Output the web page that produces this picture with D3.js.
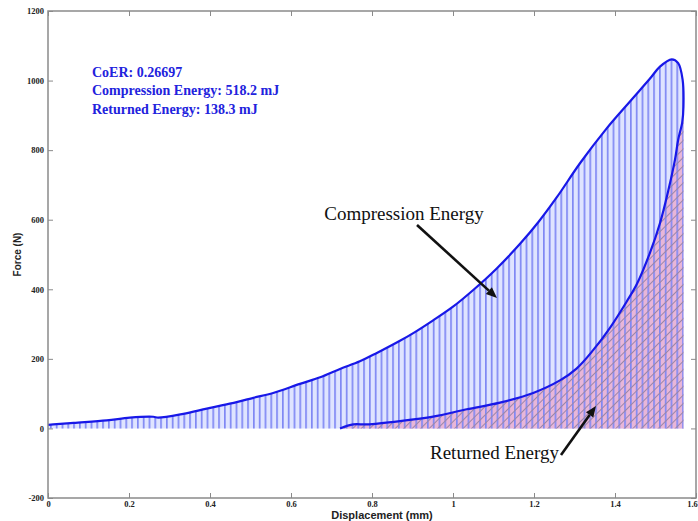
<!DOCTYPE html>
<html>
<head>
<meta charset="utf-8">
<script src="https://cdn.jsdelivr.net/npm/d3@7"></script>
<style>
  html, body { margin: 0; padding: 0; background: #fff; }
  svg { display: block; }
</style>
</head>
<body>
<svg id="chart" width="698" height="521"></svg>
<script>
// Loading (compression) branch: displacement in mm, force in N
const loadDisp  = [0, 0.013, 0.063, 0.145, 0.202, 0.26, 0.272, 0.334, 0.392, 0.441, 0.507, 0.556, 0.622, 0.672, 0.721, 0.770, 0.812, 0.869, 0.906, 0.950, 1.000, 1.050, 1.108, 1.165, 1.210, 1.256, 1.314, 1.379, 1.437, 1.486, 1.511, 1.540, 1.556, 1.567, 1.569];
const loadForce = [10, 11.5, 16, 23, 31, 33.5, 31, 42, 57, 69, 88, 102, 128, 147, 171, 193, 217, 252, 277, 310, 350, 398, 460, 530, 592, 664, 763, 862, 940, 1005, 1040, 1061, 1050, 1002, 925];

// Unloading (return) branch
const unloadDisp  = [1.569, 1.566, 1.556, 1.548, 1.532, 1.511, 1.486, 1.454, 1.429, 1.388, 1.346, 1.305, 1.264, 1.198, 1.116, 1.034, 0.951, 0.869, 0.787, 0.754, 0.721];
const unloadForce = [925, 880, 830, 772, 686, 590, 504, 415, 365, 290, 225, 172, 138, 102, 74, 55, 34, 21, 11.5, 11.5, 0];

// Axes ticks
const xTicks = [0, 0.2, 0.4, 0.6, 0.8, 1, 1.2, 1.4, 1.6];
const xTickLabels = ["0", "0.2", "0.4", "0.6", "0.8", "1", "1.2", "1.4", "1.6"];
const yTicks = [-200, 0, 200, 400, 600, 800, 1000, 1200];
const yTickLabels = ["-200", "0", "200", "400", "600", "800", "1000", "1200"];

// Summary text
const summaryLines = ["CoER: 0.26697", "Compression Energy: 518.2 mJ", "Returned Energy: 138.3 mJ"];

const svg = d3.select("#chart");
const plotL = 48, plotR = 696, plotT = 11, plotB = 498;

const x = d3.scaleLinear().domain([0, 1.6]).range([plotL, plotR]);
const y = d3.scaleLinear().domain([-200, 1200]).range([plotB, plotT]);

const loading = loadDisp.map((d, i) => ({ d, f: loadForce[i] }));
const unloadPts = unloadDisp.map((d, i) => ({ d, f: unloadForce[i] }));
const unloading = unloadPts.slice().sort((a, b) => a.d - b.d);

// Hatch patterns
const defs = svg.append("defs");
const vp = defs.append("pattern")
  .attr("id", "vlines").attr("patternUnits", "userSpaceOnUse")
  .attr("x", plotL + 2).attr("y", 0).attr("width", 5.8).attr("height", 10);
vp.append("rect").attr("x", 0).attr("y", 0).attr("width", 1.7).attr("height", 10)
  .attr("fill", "#8088f4");

const dp = defs.append("pattern")
  .attr("id", "dlines").attr("patternUnits", "userSpaceOnUse")
  .attr("width", 6).attr("height", 6)
  .attr("patternTransform", "rotate(45)");
dp.append("rect").attr("x", 0).attr("y", 0).attr("width", 1).attr("height", 6)
  .attr("fill", "#9a86a8");

defs.append("clipPath").attr("id", "plotclip")
  .append("rect").attr("x", plotL).attr("y", plotT)
  .attr("width", plotR - plotL).attr("height", plotB - plotT);

const g = svg.append("g").attr("clip-path", "url(#plotclip)");

const smooth = d3.curveCatmullRom;
const areaGen = d3.area()
  .x(p => x(p.d)).y0(y(0)).y1(p => y(p.f)).curve(smooth);

// Compression energy region
g.append("path").datum(loading).attr("d", areaGen).attr("fill", "#dfe4ff");
// Returned energy region
g.append("path").datum(unloading).attr("d", areaGen).attr("fill", "#e8b6d8");
// Vertical hatching over the whole loading area
g.append("path").datum(loading).attr("d", areaGen).attr("fill", "url(#vlines)");
// Diagonal hatching on the returned region
g.append("path").datum(unloading).attr("d", areaGen).attr("fill", "url(#dlines)");

// Hysteresis loop outline
const lineGen = d3.line().x(p => x(p.d)).y(p => y(p.f)).curve(smooth);
const loop = loading.concat(unloadPts.slice(1));
g.append("path").datum(loop).attr("d", lineGen)
  .attr("fill", "none").attr("stroke", "#1818e8").attr("stroke-width", 2.2)
  .attr("stroke-linejoin", "round");

// Axes box and ticks
const axisColor = "#8a8a8a";
function styleAxis(sel) {
  sel.select(".domain").remove();
  sel.selectAll(".tick line").attr("stroke", axisColor).attr("stroke-width", 1);
  sel.selectAll(".tick text")
    .attr("fill", "#222")
    .style("font-family", "'Liberation Serif', 'Times New Roman', serif")
    .style("font-weight", "bold")
    .style("font-size", "8.5px");
}

const xAxisBottom = svg.append("g").attr("transform", `translate(0,${plotB})`)
  .call(d3.axisBottom(x).tickValues(xTicks).tickSize(-5).tickPadding(3)
    .tickFormat((d, i) => xTickLabels[i]))
  .call(styleAxis);
// keep the last label inside the page edge
xAxisBottom.selectAll(".tick text").filter(d => d === 1.6).attr("dx", "-4");

svg.append("g").attr("transform", `translate(0,${plotT})`)
  .call(d3.axisTop(x).tickValues(xTicks).tickSize(-5).tickFormat(""))
  .call(styleAxis);
svg.append("g").attr("transform", `translate(${plotL},0)`)
  .call(d3.axisLeft(y).tickValues(yTicks).tickSize(-5).tickPadding(4)
    .tickFormat((d, i) => yTickLabels[i]))
  .call(styleAxis);
svg.append("g").attr("transform", `translate(${plotR},0)`)
  .call(d3.axisRight(y).tickValues(yTicks).tickSize(-5).tickFormat(""))
  .call(styleAxis);

svg.append("rect")
  .attr("x", plotL).attr("y", plotT).attr("width", plotR - plotL).attr("height", plotB - plotT)
  .attr("fill", "none").attr("stroke", axisColor).attr("stroke-width", 1.5);

// Axis titles
svg.append("text")
  .attr("x", 382).attr("y", 519)
  .attr("text-anchor", "middle")
  .style("font-family", "'Liberation Sans', Arial, sans-serif")
  .style("font-weight", "bold").style("font-size", "11px")
  .attr("fill", "#222")
  .text("Displacement (mm)");
svg.append("text")
  .attr("transform", `translate(21,${(plotT + plotB) / 2}) rotate(-90)`)
  .attr("text-anchor", "middle")
  .style("font-family", "'Liberation Sans', Arial, sans-serif")
  .style("font-weight", "bold").style("font-size", "10px")
  .attr("fill", "#222")
  .text("Force (N)");

// Summary text block
svg.append("g").selectAll("text").data(summaryLines).join("text")
  .attr("x", 92).attr("y", (d, i) => 77 + i * 18.3)
  .style("font-family", "'Liberation Serif', 'Times New Roman', serif")
  .style("font-weight", "bold").style("font-size", "14px")
  .attr("fill", "#2222dd")
  .text(d => d);

// Callouts with arrows
function arrow(x1, y1, x2, y2) {
  const ang = Math.atan2(y2 - y1, x2 - x1);
  const len = 11, half = 4.5;
  const bx = x2 - len * Math.cos(ang), by = y2 - len * Math.sin(ang);
  svg.append("line")
    .attr("x1", x1).attr("y1", y1).attr("x2", bx).attr("y2", by)
    .attr("stroke", "#111").attr("stroke-width", 2.6);
  const px = -Math.sin(ang) * half, py = Math.cos(ang) * half;
  svg.append("path")
    .attr("d", `M${x2},${y2}L${bx + px},${by + py}L${bx - px},${by - py}Z`)
    .attr("fill", "#111");
}

svg.append("text")
  .attr("x", 404).attr("y", 220).attr("text-anchor", "middle")
  .style("font-family", "'Liberation Serif', 'Times New Roman', serif")
  .style("font-size", "19px").attr("fill", "#111")
  .text("Compression Energy");
arrow(417, 225, 497, 298);

svg.append("text")
  .attr("x", 430).attr("y", 459)
  .style("font-family", "'Liberation Serif', 'Times New Roman', serif")
  .style("font-size", "19px").attr("fill", "#111")
  .text("Returned Energy");
arrow(561, 455, 596, 406);
</script>
</body>
</html>
